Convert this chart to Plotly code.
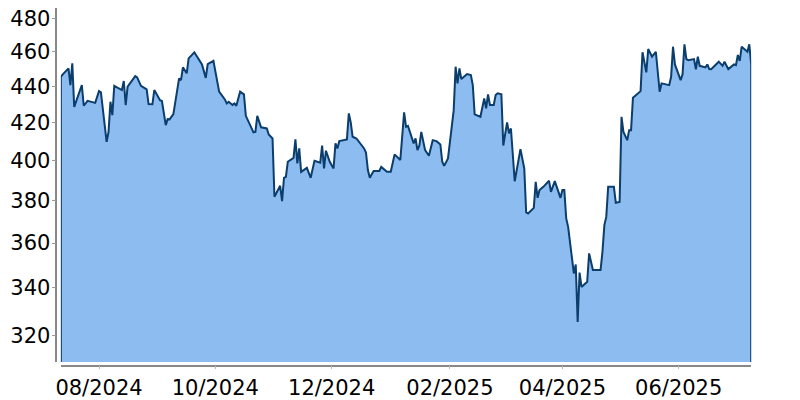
import plotly.graph_objects as go
import math

dates = [
    "2024-07-12", "2024-07-13", "2024-07-16", "2024-07-17", "2024-07-18", "2024-07-19",
    "2024-07-23", "2024-07-24", "2024-07-26", "2024-07-30", "2024-08-01", "2024-08-02",
    "2024-08-05", "2024-08-06", "2024-08-07", "2024-08-08", "2024-08-09", "2024-08-13",
    "2024-08-14", "2024-08-15", "2024-08-16", "2024-08-20", "2024-08-21", "2024-08-23",
    "2024-08-26", "2024-08-27", "2024-08-29", "2024-08-30", "2024-09-02", "2024-09-03",
    "2024-09-05", "2024-09-06", "2024-09-07", "2024-09-09", "2024-09-10", "2024-09-12",
    "2024-09-13", "2024-09-14", "2024-09-16", "2024-09-17", "2024-09-20", "2024-09-23",
    "2024-09-24", "2024-09-26", "2024-09-27", "2024-09-30", "2024-10-03", "2024-10-06",
    "2024-10-07", "2024-10-08", "2024-10-10", "2024-10-11", "2024-10-12", "2024-10-14",
    "2024-10-16", "2024-10-17", "2024-10-21", "2024-10-22", "2024-10-23", "2024-10-25",
    "2024-10-28", "2024-10-29", "2024-10-30", "2024-10-31", "2024-11-01", "2024-11-04",
    "2024-11-05", "2024-11-06", "2024-11-07", "2024-11-08", "2024-11-11", "2024-11-12",
    "2024-11-13", "2024-11-14", "2024-11-15", "2024-11-18", "2024-11-20", "2024-11-22",
    "2024-11-25", "2024-11-26", "2024-11-27", "2024-11-28", "2024-11-30", "2024-12-02",
    "2024-12-03", "2024-12-04", "2024-12-05", "2024-12-09", "2024-12-10", "2024-12-11",
    "2024-12-12", "2024-12-14", "2024-12-18", "2024-12-19", "2024-12-20", "2024-12-21",
    "2024-12-23", "2024-12-26", "2024-12-27", "2024-12-30", "2025-01-01", "2025-01-03",
    "2025-01-06", "2025-01-08", "2025-01-09", "2025-01-10", "2025-01-13", "2025-01-14",
    "2025-01-15", "2025-01-16", "2025-01-17", "2025-01-19", "2025-01-21", "2025-01-23",
    "2025-01-25", "2025-01-27", "2025-01-28", "2025-01-29", "2025-01-31", "2025-02-03",
    "2025-02-04", "2025-02-05", "2025-02-06", "2025-02-07", "2025-02-10", "2025-02-12",
    "2025-02-13", "2025-02-14", "2025-02-17", "2025-02-19", "2025-02-20", "2025-02-21",
    "2025-02-22", "2025-02-24", "2025-02-25", "2025-02-26", "2025-02-28", "2025-03-01",
    "2025-03-03", "2025-03-04", "2025-03-05", "2025-03-07", "2025-03-10", "2025-03-12",
    "2025-03-13", "2025-03-14", "2025-03-17", "2025-03-18", "2025-03-19", "2025-03-20",
    "2025-03-22", "2025-03-25", "2025-03-26", "2025-03-28", "2025-03-31", "2025-04-01",
    "2025-04-02", "2025-04-03", "2025-04-04", "2025-04-07", "2025-04-08", "2025-04-09",
    "2025-04-10", "2025-04-11", "2025-04-14", "2025-04-15", "2025-04-17", "2025-04-21",
    "2025-04-22", "2025-04-23", "2025-04-24", "2025-04-25", "2025-04-28", "2025-04-29",
    "2025-05-01", "2025-05-02", "2025-05-03", "2025-05-05", "2025-05-06", "2025-05-07",
    "2025-05-08", "2025-05-12", "2025-05-13", "2025-05-15", "2025-05-16", "2025-05-18",
    "2025-05-20", "2025-05-22", "2025-05-23", "2025-05-27", "2025-05-28", "2025-05-29",
    "2025-05-30", "2025-06-02", "2025-06-03", "2025-06-04", "2025-06-05", "2025-06-06",
    "2025-06-09", "2025-06-10", "2025-06-11", "2025-06-12", "2025-06-15", "2025-06-16",
    "2025-06-17", "2025-06-18", "2025-06-22", "2025-06-24", "2025-06-25", "2025-06-27",
    "2025-06-30", "2025-07-01", "2025-07-02", "2025-07-03", "2025-07-04", "2025-07-07",
    "2025-07-08", "2025-07-09",
]

prices = [
    445.4, 446.8, 450.2, 440.7, 453.1, 428.6,
    440.7, 429.2, 431.9, 430.8, 437.3, 436.6,
    409.8, 415.1, 431.4, 424.1, 440.3, 437.9,
    443.0, 429.6, 439.8, 445.8, 445.1, 440.3,
    438.3, 430.1, 430.0, 437.9, 432.3, 431.8,
    418.7, 421.9, 421.8, 424.6, 430.5, 444.5,
    443.5, 450.8, 447.4, 456.0, 459.6, 453.7,
    452.5, 444.8, 452.7, 454.6, 437.0, 432.7,
    430.5, 431.4, 429.6, 430.5, 429.2, 437.0,
    435.5, 423.7, 414.8, 415.1, 423.7, 417.5,
    416.9, 413.7, 412.5, 411.6, 382.0, 387.4,
    379.9, 391.4, 391.9, 399.5, 401.5, 411.1,
    398.7, 406.4, 394.4, 396.4, 391.4, 400.0,
    399.0, 407.9, 396.1, 405.2, 399.5, 396.1,
    409.0, 406.4, 410.2, 411.1, 425.0, 420.2,
    412.5, 411.6, 406.4, 404.3, 395.3, 391.4,
    394.8, 394.8, 396.9, 394.4, 394.4, 403.3,
    400.4, 425.6, 417.8, 418.3, 409.0, 411.6,
    405.5, 407.9, 415.1, 405.5, 402.6, 410.7,
    410.2, 408.5, 399.5, 397.4, 401.2, 426.8,
    451.2, 441.7, 450.2, 444.1, 447.0, 446.4,
    440.7, 424.5, 423.2, 433.3, 427.8, 435.5,
    429.6, 429.6, 435.1, 436.1, 435.5, 407.9,
    420.2, 414.3, 416.9, 389.7, 406.0, 396.1,
    374.4, 373.9, 376.6, 389.4, 381.5, 385.3,
    386.9, 389.9, 384.4, 389.7, 381.5, 385.3,
    385.3, 371.6, 367.6, 346.3, 350.3, 325.5,
    346.7, 340.4, 342.6, 355.3, 347.8, 347.8,
    356.0, 368.4, 372.3, 386.9, 386.9, 379.1,
    379.5, 423.2, 415.1, 410.7, 416.0, 416.0,
    433.6, 437.3, 459.6, 447.9, 461.5, 457.0,
    459.9, 437.0, 441.7, 440.7, 445.4, 462.9,
    452.5, 443.5, 446.8, 464.3, 455.6, 455.0,
    455.6, 449.7, 457.0, 451.7, 450.8, 452.5,
    449.8, 449.7, 454.1, 451.7, 454.1, 449.8,
    452.5, 452.1, 458.0, 454.6, 462.9, 459.9,
    464.3, 452.5,
]

y_tick_values = [320, 340, 360, 380, 400, 420, 440, 460, 480]
y_tick_labels = ["320", "340", "360", "380", "400", "420", "440", "460", "480"]
x_tick_values = ["2024-08-01", "2024-10-01", "2024-12-01", "2025-02-01", "2025-04-01", "2025-06-01"]
x_tick_labels = ["08/2024", "10/2024", "12/2024", "02/2025", "04/2025", "06/2025"]

Y_MIN, Y_MAX = 309.2, 486.4
baseline = Y_MIN * 0.9

# the page body adds an 8px offset, so the figure is 8px smaller than the window
OFF = 8
W, H = 800 - OFF, 400 - OFF
xd = [(60.86 - OFF) / W, (751.2 - OFF) / W]
yd = [1 - (362 - OFF) / H, 1.0]

fig = go.Figure()
fig.add_trace(go.Scatter(
    x=[dates[0]] + dates + [dates[-1]],
    y=[baseline] + prices + [baseline],
    mode="lines",
    fill="toself",
    fillcolor="#8cbcf0",
    line=dict(color="#0b3d6d", width=2),
    hoverinfo="skip",
    showlegend=False,
))

axis_font = dict(family="DejaVu Sans", size=21, color="#000000")

fig.update_layout(
    width=W, height=H,
    margin=dict(l=0, r=0, t=0, b=0, pad=0, autoexpand=False),
    paper_bgcolor="white",
    plot_bgcolor="white",
    showlegend=False,
    xaxis=dict(
        type="date",
        domain=xd,
        range=[dates[0], dates[-1]],
        anchor="free",
        position=1 - (365.7 - OFF) / H,
        automargin=False,
        tickmode="array",
        tickvals=x_tick_values,
        ticktext=x_tick_labels,
        ticks="outside",
        ticklen=3,
        tickcolor="#bbbbbb",
        showline=True,
        linecolor="#888888",
        linewidth=1.5,
        showgrid=False,
        zeroline=False,
        tickfont=axis_font,
        ticklabeloverflow="allow",
    ),
    yaxis=dict(
        type="log",
        domain=yd,
        range=[math.log10(Y_MIN), math.log10(Y_MAX)],
        anchor="free",
        position=(56.3 - OFF) / W,
        automargin=False,
        tickmode="array",
        tickvals=y_tick_values,
        ticktext=y_tick_labels,
        ticks="outside",
        ticklen=4,
        ticklabelstandoff=-3,
        ticklabeloverflow="allow",
        tickcolor="#999999",
        showline=True,
        linecolor="#888888",
        linewidth=1.5,
        showgrid=False,
        zeroline=False,
        tickfont=axis_font,
    ),
)

fig.write_html("out.html")
